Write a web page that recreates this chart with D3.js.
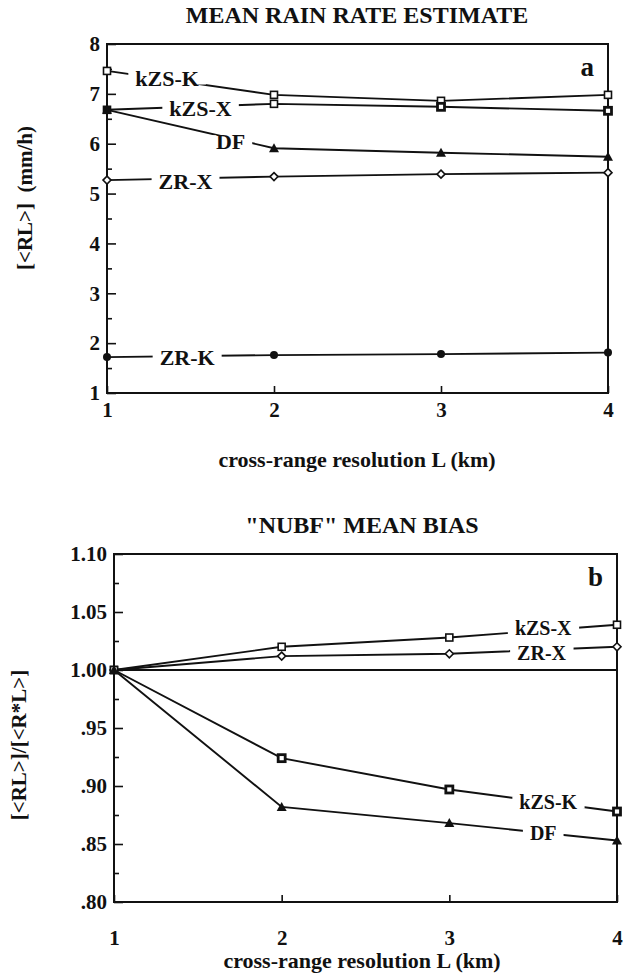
<!DOCTYPE html>
<html>
<head>
<meta charset="utf-8">
<script src="https://cdn.jsdelivr.net/npm/d3@7"></script>
<style>
  body { margin: 0; background: #fff; }
  svg text { font-family: "Liberation Serif", "Times New Roman", serif; font-weight: bold; fill: #111; }
</style>
</head>
<body>
<svg id="fig" width="624" height="975"></svg>
<script>
'use strict';
var resolution = [1, 2, 3, 4];

// panel a, mean rain rate (mm/h)
var rainKzsK = [7.46, 6.98, 6.86, 6.98];
var rainKzsX = [6.68, 6.80, 6.74, 6.66];
var rainDF   = [6.68, 5.91, 5.82, 5.74];
var rainZrX  = [5.27, 5.34, 5.39, 5.42];
var rainZrK  = [1.72, 1.76, 1.78, 1.81];
var rainTicks = [1, 2, 3, 4, 5, 6, 7, 8];

// panel b, NUBF mean bias
var biasKzsX = [1.000, 1.020, 1.028, 1.039];
var biasZrX  = [1.000, 1.012, 1.014, 1.020];
var biasKzsK = [1.000, 0.924, 0.897, 0.878];
var biasDF   = [1.000, 0.882, 0.868, 0.853];
var biasTicks = [0.80, 0.85, 0.90, 0.95, 1.00, 1.05, 1.10];
var biasTickLabels = ['.80', '.85', '.90', '.95', '1.00', '1.05', '1.10'];

var svg = d3.select('#fig');

var drawMarker = function (g, kind, x, y) {
    var s = 7;
    if (kind === 'open' || kind === 'thick' || kind === 'filled') {
        g.append('rect').attr('x', x - s / 2).attr('y', y - s / 2).attr('width', s).attr('height', s)
            .attr('fill', kind === 'filled' ? '#111' : '#fff').attr('stroke', '#111')
            .attr('stroke-width', kind === 'thick' ? 2.8 : 1.6);
    } else if (kind === 'tri') {
        g.append('path').attr('d', 'M' + x + ',' + (y - 5) + 'L' + (x + 5) + ',' + (y + 4) + 'L' + (x - 5) + ',' + (y + 4) + 'Z')
            .attr('fill', '#111');
    } else if (kind === 'diamond') {
        g.append('path').attr('d', 'M' + x + ',' + (y - 4) + 'L' + (x + 4) + ',' + y + 'L' + x + ',' + (y + 4) + 'L' + (x - 4) + ',' + y + 'Z')
            .attr('fill', '#fff').attr('stroke', '#111').attr('stroke-width', 1.6);
    } else if (kind === 'dot') {
        g.append('circle').attr('cx', x).attr('cy', y).attr('r', 4).attr('fill', '#111');
    }
};

var drawPanel = function (p) {
    var x = d3.scaleLinear().domain([1, 4]).range([p.left, p.right]);
    var y = d3.scaleLinear().domain(p.yDomain).range([p.bottom, p.top]);
    var g = svg.append('g');

    g.append('text').attr('x', p.titleX).attr('y', p.top - 21)
        .attr('text-anchor', 'middle').style('font-size', '24px').text(p.title);

    // minor + major ticks on the left, pointing inward
    g.append('g').attr('transform', 'translate(' + p.left + ',0)')
        .call(d3.axisLeft(y).tickValues(p.minor).tickSize(-5).tickFormat(''))
        .call(function (a) { a.select('.domain').remove(); });
    g.append('g').attr('transform', 'translate(' + p.left + ',0)')
        .call(d3.axisLeft(y).tickValues(p.yTicks).tickSize(-9).tickPadding(7)
            .tickFormat(function (d, i) { return p.yLabels ? p.yLabels[i] : d; }))
        .call(function (a) {
            a.select('.domain').remove();
            a.selectAll('text').style('font-size', '21px').style('font-family', null);
        });
    g.append('g').attr('transform', 'translate(0,' + p.bottom + ')')
        .call(d3.axisBottom(x).tickValues(resolution).tickSize(-7).tickPadding(p.xPad).tickFormat(d3.format('d')))
        .call(function (a) {
            a.select('.domain').remove();
            a.selectAll('text').style('font-size', '21px').style('font-family', null);
        });
    g.selectAll('.tick line').attr('stroke', '#111').attr('stroke-width', 1.6);

    g.append('rect').attr('x', p.left).attr('y', p.top)
        .attr('width', p.right - p.left).attr('height', p.bottom - p.top)
        .attr('fill', 'none').attr('stroke', '#111').attr('stroke-width', 2);

    if (p.refLine) {
        g.append('line').attr('x1', p.left).attr('x2', p.right)
            .attr('y1', y(p.refLine)).attr('y2', y(p.refLine))
            .attr('stroke', '#111').attr('stroke-width', 1.8);
    }

    var line = d3.line().x(function (d, i) { return x(resolution[i]); }).y(function (d) { return y(d); });
    p.series.forEach(function (s) {
        g.append('path').datum(s.values).attr('d', line)
            .attr('fill', 'none').attr('stroke', '#111').attr('stroke-width', 1.9);
    });

    // labels sit on the lines with a white gap round them
    p.series.forEach(function (s) {
        var lx = s.at;
        var i0 = Math.min(Math.floor(lx) - 1, 2);
        var t = lx - resolution[i0];
        var ly = y(s.values[i0] + (s.values[i0 + 1] - s.values[i0]) * t) + (s.dy || 0);
        var txt = g.append('text').attr('x', x(lx)).attr('y', ly).attr('dy', '0.35em')
            .attr('text-anchor', 'middle').style('font-size', p.labelSize).text(s.name);
        var bb = txt.node().getBBox();
        g.insert('rect', function () { return txt.node(); })
            .attr('x', bb.x - 7).attr('y', ly - 6).attr('width', bb.width + 14).attr('height', 12)
            .attr('fill', '#fff');
    });

    p.series.forEach(function (s) {
        s.values.forEach(function (v, i) {
            drawMarker(g, s.marks ? s.marks[i] : s.mark, x(resolution[i]), y(v));
        });
    });

    g.append('text').attr('x', p.right - 14).attr('y', p.top + 32)
        .attr('text-anchor', 'end').style('font-size', '27px').text(p.letter);

    g.append('text').attr('x', p.titleX).attr('y', p.xTitleY)
        .attr('text-anchor', 'middle').style('font-size', '22px').text('cross-range resolution L (km)');

    g.append('text').attr('transform', 'translate(' + p.yTitleX + ',' + p.yTitleY + ') rotate(-90)')
        .attr('text-anchor', 'middle').style('font-size', '21px').style('white-space', 'pre').text(p.yTitle);
};

drawPanel({
    title: 'MEAN RAIN RATE ESTIMATE', letter: 'a', labelSize: '22px',
    left: 107, right: 608, top: 44, bottom: 393, titleX: 357,
    yDomain: [1, 8], yTicks: rainTicks, minor: d3.range(1.5, 8, 1),
    xPad: 9, xTitleY: 467, yTitle: '[<RL>]  (mm/h)', yTitleX: 32, yTitleY: 198,
    series: [
        { name: 'kZS-K', values: rainKzsK, mark: 'open', at: 1.36, dy: -1 },
        { name: 'kZS-X', values: rainKzsX, marks: ['filled', 'open', 'thick', 'thick'], at: 1.56, dy: 2 },
        { name: 'DF', values: rainDF, mark: 'tri', at: 1.74, dy: 3 },
        { name: 'ZR-X', values: rainZrX, mark: 'diamond', at: 1.47, dy: 3 },
        { name: 'ZR-K', values: rainZrK, mark: 'dot', at: 1.48, dy: 1 }
    ]
});

drawPanel({
    title: '"NUBF" MEAN BIAS', letter: 'b', labelSize: '20px',
    left: 114, right: 617, top: 554, bottom: 902, titleX: 362,
    yDomain: [0.80, 1.10], yTicks: biasTicks, yLabels: biasTickLabels, minor: d3.range(0.825, 1.1, 0.05),
    xPad: 28, xTitleY: 968, yTitle: '[<RL>]/[<R*L>]', yTitleX: 26, yTitleY: 745,
    refLine: 1.00,
    series: [
        { name: 'kZS-X', values: biasKzsX, mark: 'open', at: 3.56, dy: -2 },
        { name: 'ZR-X', values: biasZrX, mark: 'diamond', at: 3.55, dy: 3 },
        { name: 'kZS-K', values: biasKzsK, marks: ['open', 'thick', 'thick', 'thick'], at: 3.59 },
        { name: 'DF', values: biasDF, mark: 'tri', at: 3.56 }
    ]
});
</script>
</body>
</html>
